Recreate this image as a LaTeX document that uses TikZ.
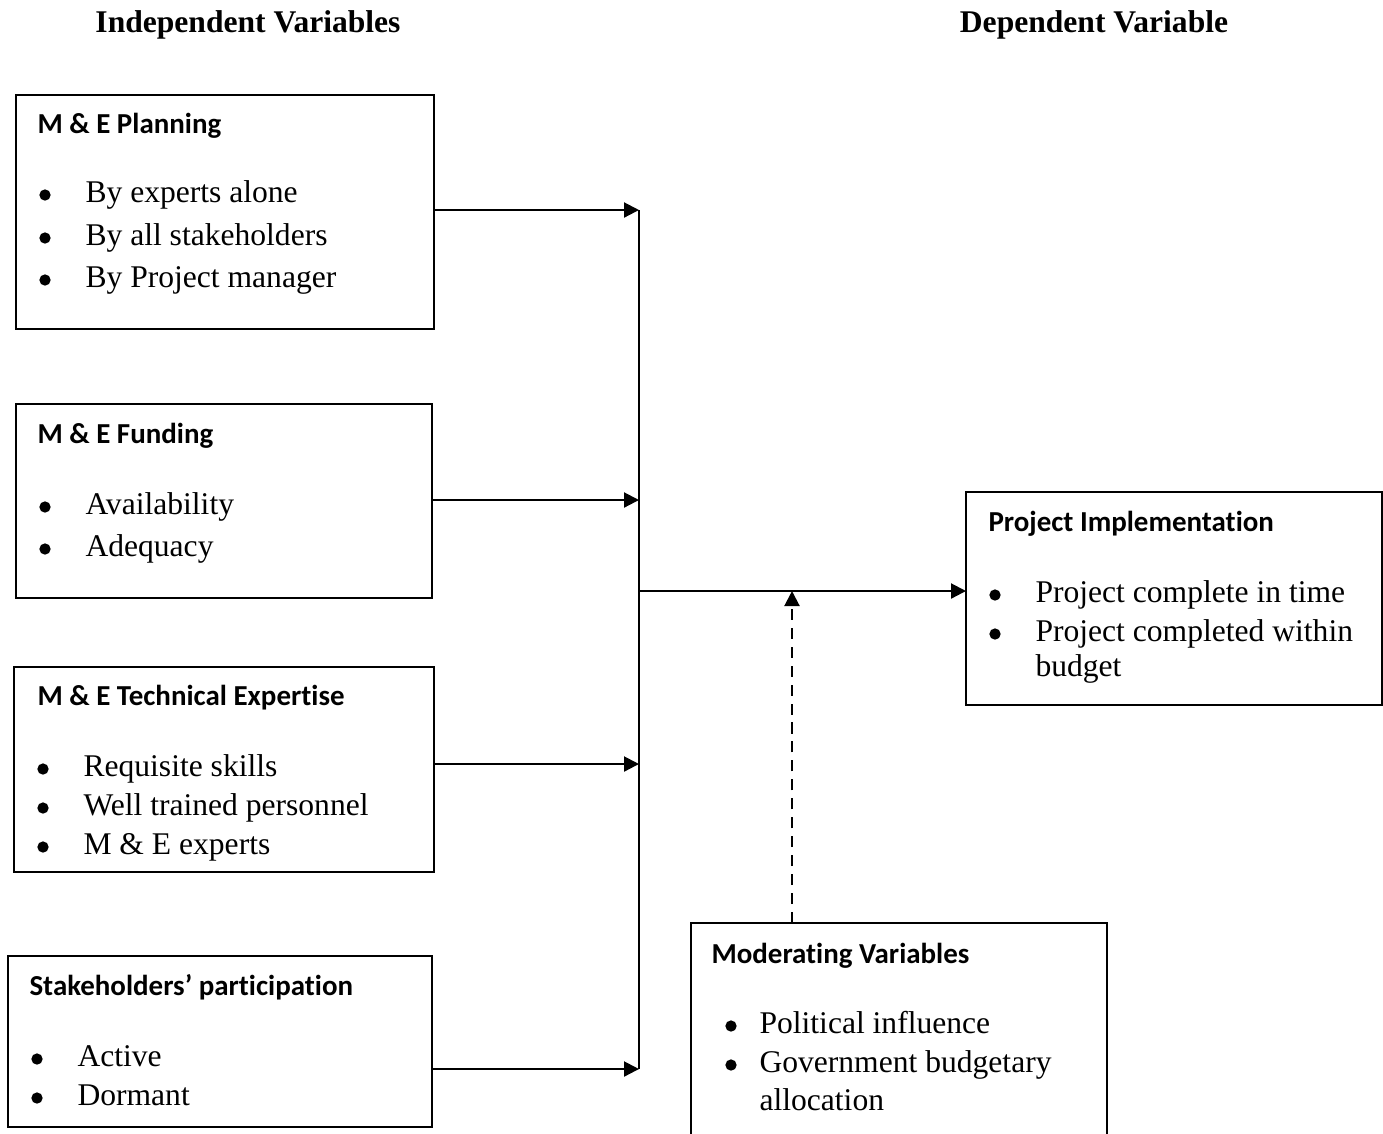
\documentclass[tikz,border=0pt]{standalone}
\usepackage{fontspec}
\setmainfont{Liberation Serif}
\newfontfamily\hdfont{Carlito}[Ligatures=NoCommon]
\usetikzlibrary{arrows.meta}
\tikzset{
  box/.style={draw, line width=0.8pt},
  conn/.style={line width=0.8pt},
  arr/.style={line width=0.8pt, -{Triangle[length=5.7pt,width=5.7pt]}},
  dasharr/.style={arr, dash pattern=on 4.2pt off 3pt},
  hd/.style={anchor=base west, inner sep=0pt, font=\hdfont\bfseries\fontsize{11}{13}\selectfont},
  title/.style={anchor=base, inner sep=0pt, font=\bfseries\fontsize{12}{14}\selectfont},
  itm/.style={anchor=base west, inner sep=0pt, font=\fontsize{12}{14}\selectfont},
  bul/.style={circle, fill, inner sep=0pt, minimum size=4.3pt},
}
\begin{document}
\begin{tikzpicture}[x=0.38pt,y=-0.38pt]
\useasboundingbox (0,0) rectangle (1383,1133);
% titles
\node[title] (tind) at (248,32) {Independent Variables};
\node[title] (tdep) at (1094,32) {Dependent Variable};
% boxes
\draw[box] (16,95) rectangle (434,329);
\draw[box] (16,404) rectangle (432,598);
\draw[box] (14,667) rectangle (434,872);
\draw[box] (8,956) rectangle (432,1127);
\draw[box] (966,492) rectangle (1382,705);
\draw[box] (691,1145) -- (691,923) -- (1107,923) -- (1107,1145);
% box 1
\node[hd] (h1) at (37,133) {M \& E Planning};
\node[bul] (p1) at (45,195) {};
\node[itm] (i1) at (85,202) {By experts alone};
\node[bul] (p2) at (45,238) {};
\node[itm] (i2) at (85,245) {By all stakeholders};
\node[bul] (p3) at (45,280) {};
\node[itm] (i3) at (85,287) {By Project manager};
% box 2
\node[hd] (h2) at (37,443) {M \& E Funding};
\node[bul] (q1) at (45,507) {};
\node[itm] (j1) at (85,514) {Availability};
\node[bul] (q2) at (45,549) {};
\node[itm] (j2) at (85,556) {Adequacy};
% box 3
\node[hd] (h3) at (37,705) {M \& E Technical Expertise};
\node[bul] (r1) at (43,769) {};
\node[itm] (k1) at (83,776) {Requisite skills};
\node[bul] (r2) at (43,808) {};
\node[itm] (k2) at (83,815) {Well trained personnel};
\node[bul] (r3) at (43,847) {};
\node[itm] (k3) at (83,854) {M \& E experts};
% box 4
\node[hd] (h4) at (29,995) {Stakeholders’ participation};
\node[bul] (s1) at (37,1059) {};
\node[itm] (l1) at (77,1066) {Active};
\node[bul] (s2) at (37,1098) {};
\node[itm] (l2) at (77,1105) {Dormant};
% project implementation
\node[hd] (h5) at (988,531) {Project Implementation};
\node[bul] (t1) at (995,595) {};
\node[itm] (m1) at (1035,602) {Project complete in time};
\node[bul] (t2) at (995,634) {};
\node[itm] (m2) at (1035,641) {Project completed within};
\node[itm] (m3) at (1035,676) {budget};
% moderating
\node[hd] (h6) at (711,963) {Moderating Variables};
\node[bul] (u1) at (731,1026) {};
\node[itm] (n1) at (759,1033) {Political influence};
\node[bul] (u2) at (731,1065) {};
\node[itm] (n2) at (759,1072) {Government budgetary};
\node[itm] (n3) at (759,1110) {allocation};
% connectors
\coordinate (a1s) at (434,210); \coordinate (a1e) at (639,210);
\coordinate (a2s) at (432,500); \coordinate (a2e) at (639,500);
\coordinate (a3s) at (434,764); \coordinate (a3e) at (639,764);
\coordinate (a4s) at (432,1069); \coordinate (a4e) at (639,1069);
\coordinate (vm) at (639,591); \coordinate (pin) at (966,591);
\coordinate (ms) at (792,923); \coordinate (me) at (792,591);
\draw[arr] (a1s) -- (a1e);
\draw[arr] (a2s) -- (a2e);
\draw[arr] (a3s) -- (a3e);
\draw[arr] (a4s) -- (a4e);
\draw[conn] (a1e) -- (a4e);
\draw[arr] (vm) -- (pin);
\draw[dasharr] (ms) -- (me);
\end{tikzpicture}
\end{document}
